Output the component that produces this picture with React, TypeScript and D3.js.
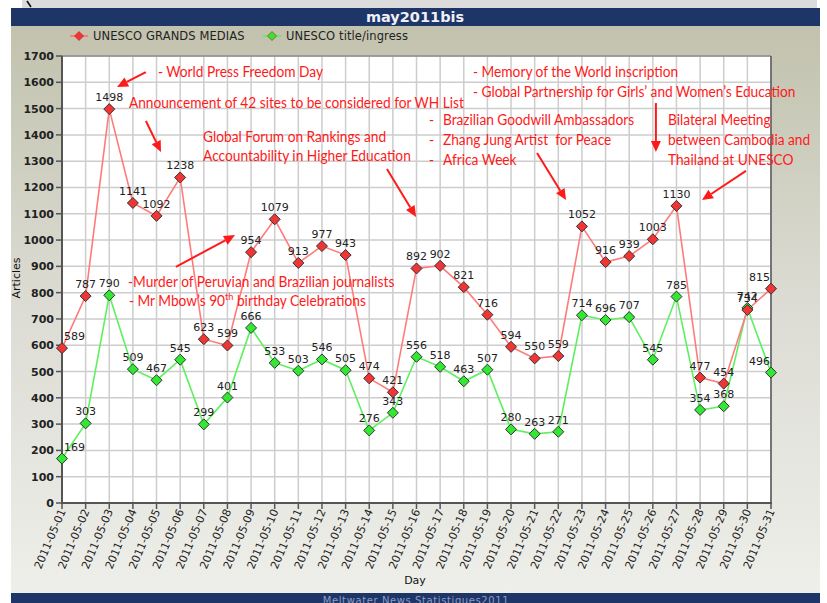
import React from 'react';
import * as d3 from 'd3';

const days = [
  '2011-05-01','2011-05-02','2011-05-03','2011-05-04','2011-05-05','2011-05-06','2011-05-07','2011-05-08',
  '2011-05-09','2011-05-10','2011-05-11','2011-05-12','2011-05-13','2011-05-14','2011-05-15','2011-05-16',
  '2011-05-17','2011-05-18','2011-05-19','2011-05-20','2011-05-21','2011-05-22','2011-05-23','2011-05-24',
  '2011-05-25','2011-05-26','2011-05-27','2011-05-28','2011-05-29','2011-05-30','2011-05-31'
];
const grandsMedias = [589,787,1498,1141,1092,1238,623,599,954,1079,913,977,943,474,421,892,902,821,716,594,550,559,1052,916,939,1003,1130,477,454,734,815];
const titleIngress = [169,303,790,509,467,545,299,401,666,533,503,546,505,276,343,556,518,463,507,280,263,271,714,696,707,545,785,354,368,742,496];
const seriesNames = ['UNESCO GRANDS MEDIAS', 'UNESCO title/ingress'];
const yTickValues = [0,100,200,300,400,500,600,700,800,900,1000,1100,1200,1300,1400,1500,1600,1700];
const chartTitle = 'may2011bis';
const footerText = 'Meltwater News Statistiques2011';
const yAxisTitle = 'Articles';
const xAxisTitle = 'Day';

// annotation texts, anchored in data space: d = day index (0 = 05-01), v = value
const noteTexts = [
  { d: 4.06, v: 1620, text: '- World Press Freedom Day' },
  { d: 2.83, v: 1502, text: 'Announcement of 42 sites to be considered for WH List' },
  { d: 5.97, v: 1373, text: 'Global Forum on Rankings and' },
  { d: 5.97, v: 1301, text: 'Accountability in Higher Education' },
  { d: 17.39, v: 1620, text: '- Memory of the World inscription' },
  { d: 17.39, v: 1544, text: '- Global Partnership for Girls\u2019 and Women\u2019s Education' },
  { d: 15.53, v: 1438, text: '-' },
  { d: 16.12, v: 1438, text: 'Brazilian Goodwill Ambassadors' },
  { d: 15.53, v: 1362, text: '-' },
  { d: 16.12, v: 1362, text: 'Zhang Jung Artist  for Peace' },
  { d: 15.53, v: 1285, text: '-' },
  { d: 16.12, v: 1285, text: 'Africa Week' },
  { d: 25.64, v: 1438, text: 'Bilateral Meeting' },
  { d: 25.64, v: 1362, text: 'between Cambodia and' },
  { d: 25.64, v: 1285, text: 'Thailand at UNESCO' },
  { d: 2.79, v: 821, text: '-Murder of Peruvian and Brazilian journalists' },
];
const mbowNote = { d: 2.83, v: 749, before: '- Mr Mbow\u2019s 90', sup: 'th', after: ' birthday Celebrations' };

const noteArrows = [
  { from: [3.55, 1639], to: [2.33, 1582] },
  { from: [3.55, 1453], to: [4.19, 1335] },
  { from: [13.75, 1270], to: [14.98, 1088] },
  { from: [20.10, 1331], to: [21.33, 1152] },
  { from: [25.13, 1521], to: [25.13, 1335] },
  { from: [28.94, 1263], to: [27.08, 1152] },
  { from: [4.82, 898], to: [7.32, 1019] },
];

const W = 827, H = 603;
const L = 62, R = 771, T = 56, B = 503;
const FONT = '"DejaVu Sans", Verdana, sans-serif';
const NOTE_FONT = 'Lato, "Open Sans", sans-serif';
const NOTE_RED = '#ff1a1a';
const NOTE_SX = 0.915;

const diamond = (s: number) => `M0,${-s}L${s},0L0,${s}L${-s},0Z`;

function Arrow({ x1, y1, x2, y2 }: { x1: number; y1: number; x2: number; y2: number }) {
  const ang = Math.atan2(y2 - y1, x2 - x1);
  const hl = 11, hw = 5;
  const bx = x2 - hl * Math.cos(ang), by = y2 - hl * Math.sin(ang);
  const px = -Math.sin(ang) * hw, py = Math.cos(ang) * hw;
  return (
    <g>
      <line x1={x1} y1={y1} x2={bx} y2={by} stroke={NOTE_RED} strokeWidth={2} />
      <polygon points={`${x2},${y2} ${bx + px},${by + py} ${bx - px},${by - py}`} fill={NOTE_RED} />
    </g>
  );
}

export default function App() {
  const x = d3.scalePoint<string>().domain(days).range([L, R]);
  const xf = d3.scaleLinear().domain([0, days.length - 1]).range([L, R]);
  const y = d3.scaleLinear().domain([0, 1700]).range([B, T]);

  const line = d3.line<number>().x((_, i) => x(days[i]) as number).y((v) => y(v));

  const series = [
    { name: seriesNames[1], values: titleIngress, line: '#5ff05f', fill: '#33e833' },
    { name: seriesNames[0], values: grandsMedias, line: '#ff7b7b', fill: '#f03535' },
  ];

  const labelX = (v: number, px: number) => {
    const w = String(v).length * 7;
    return Math.max(L + w / 2 + 2, Math.min(R - w / 2 - 1, px));
  };

  return (
    <svg width={W} height={H} style={{ position: 'absolute', left: 0, top: 0, background: '#ffffff' }}>
      <defs>
        <linearGradient id="panelGrad" x1="0" y1="0" x2="0" y2="1">
          <stop offset="0" stopColor="#c0c0ab" />
          <stop offset="0.5" stopColor="#dcdcd4" />
          <stop offset="1" stopColor="#efefeb" />
        </linearGradient>
      </defs>
      {/* outer */}
      <rect x={22} y={0} width={795} height={8} fill="#dcdcdc" />
      <line x1={27} y1={1} x2={31} y2={7} stroke="#111" strokeWidth={1.6} />
      <rect x={11} y={8} width={809} height={595} fill="url(#panelGrad)" />
      {/* title bar */}
      <rect x={11} y={8} width={809} height={18} fill="#1e3567" />
      <text x={415} y={22} textAnchor="middle" fontFamily={FONT} fontWeight="bold" fontSize={14.5} fill="#eef0f6">{chartTitle}</text>
      {/* footer */}
      <rect x={11} y={593} width={809} height={10} fill="#1e3567" />
      <text x={416} y={604} textAnchor="middle" fontFamily={FONT} fontSize={10} letterSpacing={0.6} fill="#8c9cc0">{footerText}</text>

      {/* legend */}
      {[0, 1].map((k) => {
        const s = k === 0 ? series[1] : series[0];
        const lx = k === 0 ? 70 : 263;
        return (
          <g key={k}>
            <line x1={lx} y1={36} x2={lx + 18} y2={36} stroke={s.line} strokeWidth={2} />
            <path d={diamond(4.5)} transform={`translate(${lx + 9},36)`} fill={s.fill} stroke="#c01010" strokeWidth={0.6} />
            <text x={lx + 23} y={40} fontFamily={FONT} fontSize={11.5} letterSpacing={0.1} fill="#222">{s.name}</text>
          </g>
        );
      })}

      {/* plot background + grid */}
      <rect x={L} y={T} width={R - L} height={B - T} fill="#ffffff" />
      {yTickValues.map((t) => (
        <line key={'gy' + t} x1={L} x2={R} y1={y(t)} y2={y(t)} stroke="#cdcdcd" strokeWidth={1.5} />
      ))}
      {days.map((d) => (
        <line key={'gx' + d} x1={x(d)} x2={x(d)} y1={T} y2={B} stroke="#cdcdcd" strokeWidth={1.5} />
      ))}
      <line x1={L} y1={T} x2={R} y2={T} stroke="#666" strokeWidth={1} />
      <line x1={R} y1={T} x2={R} y2={B} stroke="#555" strokeWidth={1.5} />

      {/* axes */}
      <line x1={L} y1={T} x2={L} y2={B + 1} stroke="#555" strokeWidth={2} />
      <line x1={L} y1={B} x2={R + 1} y2={B} stroke="#555" strokeWidth={2} />
      {yTickValues.map((t) => (
        <g key={'yt' + t}>
          <line x1={L - 6} x2={L} y1={y(t)} y2={y(t)} stroke="#555" strokeWidth={1.5} />
          <text x={L - 8} y={y(t) + 4} textAnchor="end" fontFamily={FONT} fontSize={11} fill="#222" fontWeight={600}>{t}</text>
        </g>
      ))}
      {days.map((d) => (
        <g key={'xt' + d}>
          <line x1={x(d)} x2={x(d)} y1={B} y2={B + 6} stroke="#555" strokeWidth={1.5} />
          <text transform={`translate(${(x(d) as number) + 4},${B + 8}) rotate(-67)`} textAnchor="end" fontFamily={FONT} fontSize={11} fill="#222">{d}</text>
        </g>
      ))}
      <text transform={`translate(20,278) rotate(-90)`} textAnchor="middle" fontFamily={FONT} fontSize={11} fill="#111">{yAxisTitle}</text>
      <text x={415} y={584} textAnchor="middle" fontFamily={FONT} fontSize={11} fill="#111">{xAxisTitle}</text>

      {/* series */}
      {series.map((s) => (
        <path key={'l' + s.name} d={line(s.values) || ''} fill="none" stroke={s.line} strokeWidth={1.6} />
      ))}
      {series.map((s) => (
        <g key={'m' + s.name}>
          {s.values.map((v, i) => (
            <path key={i} d={diamond(5.5)} transform={`translate(${x(days[i])},${y(v)})`} fill={s.fill} stroke="#333" strokeWidth={1} />
          ))}
        </g>
      ))}
      {series.map((s) => (
        <g key={'t' + s.name}>
          {s.values.map((v, i) => (
            <text key={i} x={labelX(v, x(days[i]) as number)} y={y(v) - 8} textAnchor="middle" fontFamily={FONT} fontSize={11} fill="#222">{v}</text>
          ))}
        </g>
      ))}

      {/* annotations */}
      {noteTexts.map((n, i) => (
        <text key={'n' + i} transform={`translate(${xf(n.d)},${y(n.v)}) scale(${NOTE_SX},1)`} style={{ whiteSpace: 'pre' }} fontFamily={NOTE_FONT} fontSize={15} fill={NOTE_RED}>{n.text}</text>
      ))}
      <text transform={`translate(${xf(mbowNote.d)},${y(mbowNote.v)}) scale(${NOTE_SX},1)`} fontFamily={NOTE_FONT} fontSize={15} fill={NOTE_RED}>
        {mbowNote.before}
        <tspan dy={-6} fontSize={10}>{mbowNote.sup}</tspan>
        <tspan dy={6}>{mbowNote.after}</tspan>
      </text>
      {noteArrows.map((a, i) => (
        <Arrow key={'a' + i} x1={xf(a.from[0])} y1={y(a.from[1])} x2={xf(a.to[0])} y2={y(a.to[1])} />
      ))}
    </svg>
  );
}
